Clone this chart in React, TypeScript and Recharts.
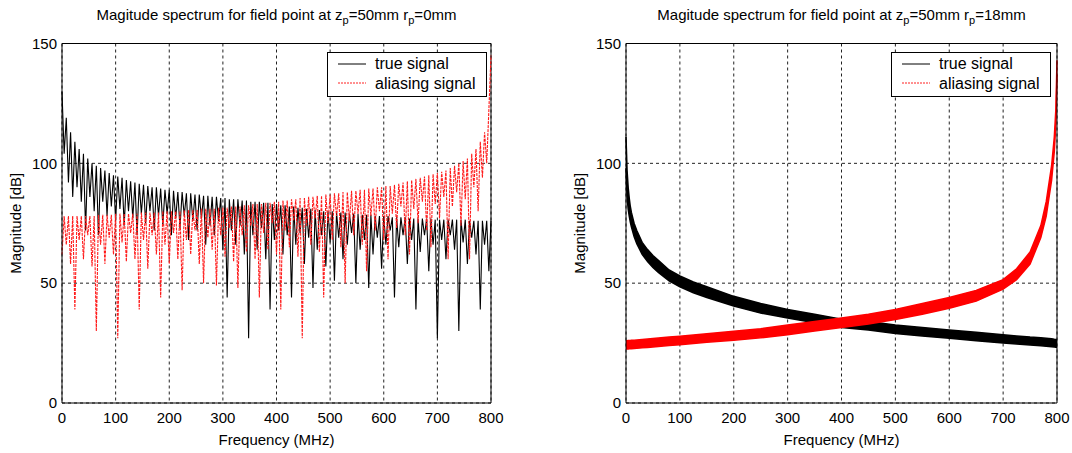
import {
  ComposedChart,
  Line,
  Area,
  XAxis,
  YAxis,
  CartesianGrid,
  ReferenceLine,
  Legend,
} from "recharts";

// frequency ticks / magnitude ticks shared by both panels
const xTicks = [0, 100, 200, 300, 400, 500, 600, 700, 800];
const yTicks = [0, 50, 100, 150];

// left panel: z_p=50mm r_p=0mm, sampled every 4 MHz (0..800)
const FREQ_STEP = 4;
const trueSignalLeft = [
  130, 104, 119, 92, 113, 86, 109, 90, 106, 84,
  104, 72, 102, 86, 100, 80, 99, 70, 98, 84,
  97, 78, 96, 82, 95, 76, 94.5, 81, 94, 74,
  93, 80, 92.5, 77, 92, 70, 91.5, 79, 91, 75,
  90.5, 80, 90, 72, 90, 78, 89.5, 74, 89, 79,
  89, 70, 88.5, 77, 88, 73, 88, 78, 87.5, 68,
  87.5, 76, 87, 72, 87, 77, 86.5, 66, 86.5, 74,
  86, 70, 86, 76, 85.5, 64, 85.5, 44, 85, 72,
  85, 66, 85, 74, 84.5, 62, 84.5, 27, 84, 70,
  84, 64, 84, 73, 83.5, 60, 83.5, 39, 83, 68,
  83, 72, 82.5, 62, 82.5, 70, 82, 44, 82, 66,
  81.5, 71, 81.5, 58, 81, 69, 81, 48, 80.5, 64,
  80.5, 70, 80, 57, 80, 67, 80, 51, 79.5, 69,
  79.5, 60, 79.5, 66, 79, 71, 79, 50, 79, 64,
  78.5, 68, 78.5, 48, 78.5, 62, 78, 69, 78, 56,
  78, 66, 78, 72, 77.5, 44, 77.5, 65, 77.5, 70,
  77.5, 58, 77, 68, 77, 39, 77, 63, 77, 70,
  77, 55, 77, 66, 76.5, 27, 76.5, 68, 76.5, 60,
  76.5, 70, 76.5, 64, 76.5, 30, 76.5, 67, 76.5, 58,
  76, 69, 76, 62, 76, 39, 76, 66, 76, 55,
  76,
];
const aliasSignalLeft = [
  62, 78, 66, 78, 58, 78, 39, 78, 68, 78,
  60, 78, 70, 78, 57, 78, 30, 78.5, 66, 78.5,
  58, 78.5, 69, 78.5, 62, 79, 27, 79, 67, 79,
  59, 79, 71, 79, 60, 79, 39, 79.5, 68, 79.5,
  56, 79.5, 70, 79.5, 62, 79.5, 44, 80, 66, 80,
  58, 80, 71, 80, 60, 80, 47, 80.5, 68, 80.5,
  62, 80.5, 72, 80.5, 58, 81, 50, 81, 69, 81,
  64, 81, 49, 81.5, 70, 81.5, 61, 81.5, 73, 82,
  59, 82, 48, 82, 70, 82.5, 63, 82.5, 74, 83,
  60, 83, 44, 83, 71, 83.5, 64, 83.5, 75, 84,
  62, 84, 39, 84.5, 72, 84.5, 65, 85, 76, 85,
  61, 85.5, 27, 85.5, 74, 86, 66, 86, 77, 86.5,
  63, 86.5, 44, 87, 75, 87, 68, 87.5, 78, 87.5,
  65, 88, 50, 88, 76, 88.5, 70, 88.5, 79, 89,
  66, 89, 55, 89.5, 78, 89.5, 72, 90, 80, 90,
  68, 90.5, 60, 90.5, 79, 91, 73, 91.5, 82, 92,
  70, 92.5, 62, 93, 81, 93.5, 75, 94, 84, 94.5,
  72, 95, 65, 95.5, 83, 96, 77, 96.5, 86, 97,
  60, 98, 82, 99, 88, 100, 74, 101, 85, 102,
  60, 104, 90, 106, 80, 109, 94, 113, 100, 122,
  145,
];

// right panel: z_p=50mm r_p=18mm, the signals are thick bands (low/high envelope)
const freqRight = [
  0, 1, 2, 4, 6, 8, 10, 15, 20, 30, 40, 50, 60, 80, 100, 125, 150, 200, 250,
  300, 350, 400, 450, 500, 550, 600, 650, 700, 725, 750, 770, 780, 790, 795, 798, 800,
];
const trueLowRight = [
  98, 92, 86, 81, 78, 75.5, 73.5, 69.5, 66.5, 62, 59, 56.5, 54.5, 51, 48.5, 46, 44, 40.5, 37.5,
  35.5, 33.5, 31.5, 30.5, 29, 28, 27, 26, 25, 24.6, 24.2, 23.9, 23.7, 23.5, 23.4, 23.3, 23.2,
];
const trueHighRight = [
  111, 104, 97, 90, 85.5, 82, 79.5, 75, 72, 67, 64, 61.5, 59.5, 55.5, 53, 50.5, 48.5, 44.5, 41.5,
  39, 37, 35, 34, 32.5, 31.5, 30.5, 29.5, 28.5, 28, 27.5, 27.2, 27, 26.8, 26.6, 26.5, 26.4,
];
const aliasLowRight = [
  22.5, 22.5, 22.5, 22.5, 22.6, 22.6, 22.6, 22.7, 22.8, 23, 23.2, 23.4, 23.6, 24, 24.3, 24.8, 25.3, 26.2, 27.2,
  28.5, 30, 31.5, 33, 34.8, 37, 39.5, 42.5, 47.5, 51.5, 58, 69, 78, 93, 105, 117, 137,
];
const aliasHighRight = [
  26, 26, 26, 26.1, 26.1, 26.1, 26.2, 26.2, 26.3, 26.5, 26.7, 26.9, 27.1, 27.5, 27.9, 28.4, 28.9, 29.9, 31,
  32.5, 34, 35.5, 37, 39, 41.5, 44, 47, 51.5, 56, 63, 74, 84, 99, 111, 123, 143,
];

const leftData = trueSignalLeft.map((v, i) => ({
  f: i * FREQ_STEP,
  trueSig: v,
  alias: aliasSignalLeft[i],
}));

const rightData = freqRight.map((f, i) => ({
  f,
  trueBand: [trueLowRight[i], trueHighRight[i]],
  aliasBand: [aliasLowRight[i], aliasHighRight[i]],
}));

const FONT = "'Liberation Sans', Arial, Helvetica, sans-serif";
const W = 536;
const H = 453;

const LegendBox = () => (
  <div
    style={{
      width: 160,
      height: 45,
      boxSizing: "border-box",
      border: "1px solid #000",
      background: "#fff",
      fontFamily: FONT,
      fontSize: 16,
      paddingTop: 1,
    }}
  >
    {[
      { label: "true signal", color: "#000", dash: undefined },
      { label: "aliasing signal", color: "#ff2020", dash: "2 1" },
    ].map((r) => (
      <div key={r.label} style={{ display: "flex", alignItems: "center", height: 19.5 }}>
        <svg width={28} height={4} style={{ marginLeft: 10 }}>
          <line x1={0} y1={2} x2={28} y2={2} stroke={r.color} strokeWidth={1} strokeDasharray={r.dash} />
        </svg>
        <span style={{ marginLeft: 9, lineHeight: "19px" }}>{r.label}</span>
      </div>
    ))}
  </div>
);

const axisCommon = {
  stroke: "#000",
  tick: { fontSize: 15, fill: "#000" },
  tickLine: false,
};

const Title = ({ left, width, r }: { left: number; width: number; r: string }) => (
  <div
    style={{
      position: "absolute",
      left,
      width,
      top: 6,
      textAlign: "center",
      fontSize: 15,
      lineHeight: "18px",
      whiteSpace: "nowrap",
    }}
  >
    Magitude spectrum for field point at z<sub style={{ fontSize: 11 }}>p</sub>=50mm r
    <sub style={{ fontSize: 11 }}>p</sub>={r}
  </div>
);

const Panel = ({ children, data, right }: { children: any; data: any[]; right: number }) => (
  <ComposedChart
    width={W}
    height={H}
    data={data}
    margin={{ top: 43.5, right, bottom: 3, left: 22 }}
  >
    <CartesianGrid stroke="#222" strokeDasharray="3 3" />
    <XAxis
      dataKey="f"
      type="number"
      domain={[0, 800]}
      ticks={xTicks}
      height={47}
      tickSize={6}
      tickMargin={3}
      {...axisCommon}
      label={{ value: "Frequency (MHz)", position: "insideBottom", offset: 5, fill: "#000", fontSize: 15 }}
    />
    <YAxis
      type="number"
      domain={[0, 150]}
      ticks={yTicks}
      width={40}
      tickSize={3}
      tickMargin={2}
      {...axisCommon}
      label={{
        value: "Magnitude [dB]",
        angle: -90,
        position: "insideLeft",
        offset: -6,
        fill: "#000",
        fontSize: 15,
        style: { textAnchor: "middle" },
      }}
    />
    <ReferenceLine y={150} stroke="#000" />
    <ReferenceLine x={800} stroke="#000" />
    {children}
    <Legend
      layout="vertical"
      align="center"
      verticalAlign="middle"
      wrapperStyle={{ left: 327, top: 52, width: 160, height: 45 }}
      content={() => <LegendBox />}
    />
  </ComposedChart>
);

export default function App() {
  return (
    <div
      style={{
        position: "absolute",
        left: 0,
        top: 0,
        width: 1072,
        height: 453,
        background: "#fff",
        fontFamily: FONT,
      }}
    >
      <Title left={0} width={553} r="0mm" />
      <Title left={564} width={555} r="18mm" />
      <div style={{ position: "absolute", left: 0, top: 0 }}>
        <Panel data={leftData} right={45}>
          <Line
            dataKey="trueSig"
            type="linear"
            stroke="#000"
            strokeWidth={1.1}
            dot={false}
            isAnimationActive={false}
          />
          <Line
            dataKey="alias"
            type="linear"
            stroke="#ff1a1a"
            strokeWidth={1.1}
            strokeDasharray="3 1"
            dot={false}
            isAnimationActive={false}
          />
        </Panel>
      </div>
      <div style={{ position: "absolute", left: 564, top: 0 }}>
        <Panel data={rightData} right={43}>
          <Area
            dataKey="trueBand"
            type="linear"
            stroke="#000"
            strokeWidth={1.5}
            fill="#000"
            fillOpacity={1}
            dot={false}
            activeDot={false}
            isAnimationActive={false}
          />
          <Area
            dataKey="aliasBand"
            type="linear"
            stroke="#ff0000"
            strokeWidth={1.5}
            fill="#ff0000"
            fillOpacity={1}
            dot={false}
            activeDot={false}
            isAnimationActive={false}
          />
        </Panel>
      </div>
    </div>
  );
}
